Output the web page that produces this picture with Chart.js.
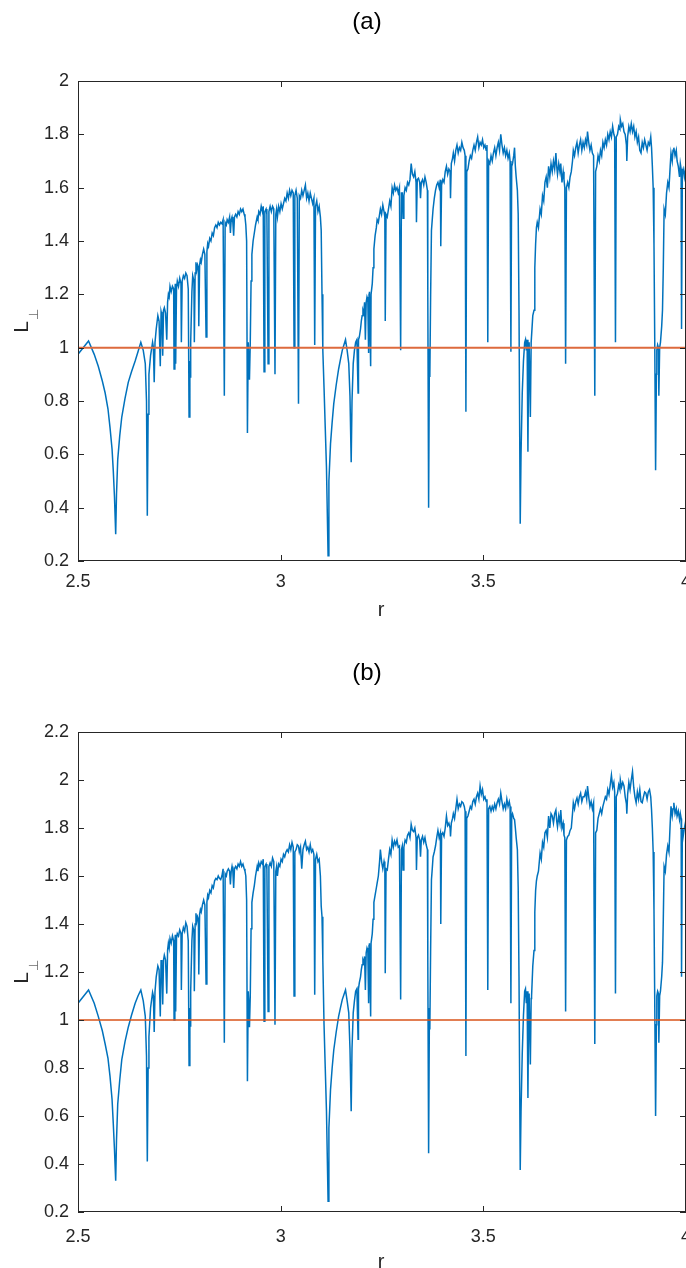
<!DOCTYPE html>
<html>
<head>
<meta charset="utf-8">
<title>L perp versus r</title>
<script src="https://cdn.jsdelivr.net/npm/chart.js@4.4.0/dist/chart.umd.min.js"></script>
<style>
    html, body { margin: 0; padding: 0; background: #ffffff; overflow: hidden; }
    .panel { position: absolute; left: 0; width: 686px; height: 634px; }
    #panelA { top: 0; }
    #panelB { top: 634px; }
</style>
</head>
<body>
<div class="panel" id="panelA"><canvas id="chartA" width="686" height="634"></canvas></div>
<div class="panel" id="panelB"><canvas id="chartB" width="686" height="634"></canvas></div>
<script>
// ========================================
// DATA
// ========================================

// r samples, shared by both panels
const rVals = [
    2.5, 2.526, 2.54, 2.55, 2.56, 2.567, 2.574, 2.579, 2.584, 2.587,
    2.59, 2.593, 2.595, 2.598, 2.603, 2.608, 2.616, 2.624, 2.632, 2.641,
    2.648, 2.655, 2.661, 2.666, 2.669, 2.671, 2.673, 2.675, 2.679, 2.684,
    2.686, 2.688, 2.69, 2.693, 2.697, 2.7, 2.703, 2.705, 2.707, 2.709,
    2.711, 2.713, 2.716, 2.719, 2.721, 2.723, 2.725, 2.727, 2.73, 2.733,
    2.736, 2.737, 2.739, 2.74, 2.741, 2.743, 2.745, 2.748, 2.751, 2.754,
    2.755, 2.757, 2.76, 2.763, 2.766, 2.769, 2.772, 2.774, 2.776, 2.777,
    2.778, 2.781, 2.783, 2.786, 2.787, 2.789, 2.791, 2.793, 2.795, 2.797,
    2.798, 2.8, 2.802, 2.804, 2.807, 2.81, 2.813, 2.816, 2.818, 2.82,
    2.822, 2.825, 2.828, 2.831, 2.834, 2.837, 2.84, 2.843, 2.846, 2.849,
    2.852, 2.855, 2.858, 2.861, 2.863, 2.866, 2.868, 2.871, 2.874, 2.876,
    2.878, 2.88, 2.882, 2.884, 2.886, 2.889, 2.892, 2.895, 2.898, 2.901,
    2.904, 2.907, 2.91, 2.912, 2.914, 2.916, 2.918, 2.92, 2.922, 2.923,
    2.925, 2.927, 2.929, 2.932, 2.935, 2.938, 2.942, 2.944, 2.946, 2.949,
    2.952, 2.955, 2.957, 2.959, 2.961, 2.964, 2.966, 2.969, 2.971, 2.974,
    2.977, 2.98, 2.983, 2.986, 2.988, 2.99, 2.992, 2.995, 2.998, 3.001,
    3.004, 3.007, 3.01, 3.013, 3.016, 3.019, 3.022, 3.025, 3.028, 3.031,
    3.033, 3.035, 3.038, 3.041, 3.044, 3.046, 3.049, 3.052, 3.055, 3.058,
    3.061, 3.064, 3.067, 3.07, 3.073, 3.076, 3.079, 3.082, 3.084, 3.086,
    3.089, 3.092, 3.095, 3.098, 3.1, 3.102, 3.104, 3.107, 3.11, 3.113,
    3.117, 3.119, 3.123, 3.127, 3.131, 3.137, 3.143, 3.148, 3.152, 3.156,
    3.16, 3.164, 3.168, 3.171, 3.174, 3.176, 3.179, 3.182, 3.185, 3.188,
    3.191, 3.192, 3.194, 3.197, 3.199, 3.201, 3.203, 3.205, 3.207, 3.209,
    3.211, 3.213, 3.215, 3.217, 3.218, 3.219, 3.222, 3.223, 3.226, 3.228,
    3.23, 3.233, 3.236, 3.238, 3.241, 3.244, 3.246, 3.249, 3.252, 3.255,
    3.257, 3.258, 3.26, 3.263, 3.266, 3.269, 3.272, 3.275, 3.278, 3.281,
    3.284, 3.287, 3.29, 3.293, 3.296, 3.298, 3.3, 3.302, 3.304, 3.307,
    3.31, 3.313, 3.316, 3.319, 3.322, 3.325, 3.328, 3.331, 3.334, 3.335,
    3.337, 3.34, 3.343, 3.345, 3.347, 3.35, 3.353, 3.356, 3.359, 3.362,
    3.363, 3.365, 3.367, 3.368, 3.37, 3.372, 3.374, 3.376, 3.379, 3.382,
    3.385, 3.388, 3.391, 3.394, 3.395, 3.397, 3.4, 3.403, 3.406, 3.409,
    3.412, 3.415, 3.418, 3.419, 3.421, 3.424, 3.426, 3.429, 3.432, 3.435,
    3.438, 3.441, 3.444, 3.447, 3.45, 3.453, 3.455, 3.457, 3.459, 3.462,
    3.465, 3.468, 3.471, 3.474, 3.477, 3.48, 3.483, 3.486, 3.489, 3.492,
    3.495, 3.498, 3.501, 3.504, 3.507, 3.509, 3.511, 3.513, 3.516, 3.519,
    3.522, 3.525, 3.528, 3.531, 3.534, 3.537, 3.54, 3.543, 3.546, 3.549,
    3.552, 3.555, 3.558, 3.561, 3.564, 3.566, 3.568, 3.57, 3.572, 3.575,
    3.577, 3.579, 3.581, 3.584, 3.586, 3.588, 3.591, 3.593, 3.596, 3.599,
    3.602, 3.604, 3.606, 3.608, 3.61, 3.612, 3.613, 3.616, 3.618, 3.619,
    3.622, 3.625, 3.627, 3.629, 3.631, 3.633, 3.636, 3.64, 3.643, 3.646,
    3.649, 3.652, 3.655, 3.658, 3.661, 3.664, 3.667, 3.67, 3.673, 3.676,
    3.679, 3.681, 3.683, 3.686, 3.689, 3.691, 3.694, 3.697, 3.699, 3.701,
    3.703, 3.705, 3.708, 3.711, 3.714, 3.717, 3.72, 3.722, 3.725, 3.728,
    3.731, 3.734, 3.737, 3.74, 3.743, 3.746, 3.749, 3.752, 3.755, 3.757,
    3.76, 3.763, 3.766, 3.769, 3.772, 3.775, 3.777, 3.78, 3.783, 3.786,
    3.789, 3.792, 3.795, 3.798, 3.801, 3.804, 3.807, 3.81, 3.813, 3.816,
    3.819, 3.822, 3.824, 3.826, 3.828, 3.831, 3.834, 3.837, 3.838, 3.841,
    3.844, 3.847, 3.85, 3.853, 3.854, 3.856, 3.859, 3.862, 3.865, 3.868,
    3.871, 3.874, 3.877, 3.88, 3.883, 3.886, 3.889, 3.892, 3.895, 3.898,
    3.901, 3.904, 3.907, 3.91, 3.913, 3.915, 3.917, 3.919, 3.921, 3.923,
    3.925, 3.927, 3.928, 3.93, 3.932, 3.933, 3.935, 3.937, 3.94, 3.942,
    3.944, 3.946, 3.949, 3.952, 3.955, 3.958, 3.961, 3.963, 3.966, 3.968,
    3.97, 3.973, 3.976, 3.978, 3.981, 3.984, 3.986, 3.988, 3.989, 3.991,
    3.993, 3.996, 4.0
];

// panel (a)
const lA = [
    0.975, 1.025, 0.975, 0.93, 0.875, 0.83, 0.77, 0.70, 0.62, 0.54,
    0.44, 0.30, 0.45, 0.58, 0.67, 0.74, 0.81, 0.87, 0.91, 0.95,
    0.985, 1.02, 0.99, 0.94, 0.80, 0.37, 0.75, 0.90, 0.97, 1.02,
    1.00, 0.87, 1.02, 1.07, 1.12, 1.10, 0.93, 1.135, 1.12, 0.97,
    1.14, 1.15, 1.13, 1.03, 1.17, 1.20, 1.19, 1.23, 1.21, 1.23,
    1.22, 0.92, 1.20, 1.24, 0.94, 1.22, 1.25, 1.23, 1.26, 1.24,
    1.02, 1.25, 1.27, 1.26, 1.28, 1.27, 1.22, 0.74, 0.95, 0.89,
    1.02, 1.21, 1.27, 1.25, 1.02, 1.28, 1.32, 1.29, 1.31, 1.30,
    1.08, 1.31, 1.33, 1.32, 1.35, 1.37, 1.35, 1.04, 1.36, 1.39,
    1.38, 1.41, 1.40, 1.43, 1.42, 1.45, 1.46, 1.45, 1.47, 1.46,
    1.47, 1.465, 1.48, 0.82, 1.47, 1.46, 1.48, 1.47, 1.49, 1.43,
    1.48, 1.49, 1.47, 1.42, 1.49, 1.50, 1.49, 1.51, 1.50, 1.52,
    1.51, 1.52, 1.50, 1.49, 1.46, 1.40, 0.68, 1.02, 0.94, 0.88,
    1.02, 1.25, 1.35, 1.40, 1.43, 1.46, 1.49, 1.48, 1.51, 1.50,
    1.53, 1.51, 1.53, 0.91, 1.51, 1.52, 1.50, 0.94, 1.51, 1.53,
    1.51, 1.53, 1.52, 0.90, 1.50, 1.52, 1.49, 1.53, 1.51, 1.54,
    1.52, 1.54, 1.56, 1.55, 1.58, 1.56, 1.59, 1.57, 1.59, 1.58,
    1.00, 1.57, 1.59, 1.56, 0.79, 1.57, 1.56, 1.59, 1.57, 1.59,
    1.61, 1.56, 1.58, 1.55, 1.58, 1.56, 1.54, 1.56, 1.01, 1.53,
    1.55, 1.51, 1.53, 1.49, 1.44, 1.20, 0.99, 0.85, 0.70, 0.55,
    0.22, 0.50, 0.64, 0.72, 0.79, 0.86, 0.92, 0.96, 0.99, 1.01,
    1.03, 0.99, 0.94, 0.82, 0.57, 0.80, 0.94, 0.99, 1.02, 1.03,
    0.83, 1.03, 1.04, 1.07, 1.10, 1.12, 1.14, 1.13, 1.17, 1.03,
    1.17, 1.19, 1.18, 0.98, 1.20, 1.21, 0.93, 1.20, 1.24, 1.30,
    1.37, 1.42, 1.45, 1.48, 1.47, 1.50, 1.52, 1.50, 1.535, 1.51,
    1.49, 1.10, 1.50, 1.49, 1.52, 1.55, 1.53, 1.60, 1.58, 1.61,
    1.59, 1.60, 1.58, 1.60, 0.99, 1.58, 1.58, 1.485, 1.57, 1.60,
    1.59, 1.62, 1.61, 1.63, 1.69, 1.65, 1.64, 1.66, 1.62, 1.47,
    1.63, 1.635, 1.62, 1.56, 1.62, 1.63, 1.61, 1.64, 1.62, 1.59,
    1.20, 0.40, 1.00, 0.89, 1.20, 1.44, 1.48, 1.52, 1.56, 1.59,
    1.61, 1.62, 1.60, 1.63, 1.38, 1.61, 1.63, 1.62, 1.66, 1.68,
    1.65, 1.67, 1.66, 1.56, 1.69, 1.71, 1.73, 1.70, 1.74, 1.76,
    1.73, 1.75, 1.74, 1.77, 1.75, 1.74, 1.72, 0.76, 1.66, 1.67,
    1.70, 1.72, 1.71, 1.74, 1.76, 1.74, 1.77, 1.79, 1.75, 1.77,
    1.76, 1.78, 1.75, 1.76, 1.74, 1.76, 1.02, 1.70, 1.69, 1.72,
    1.70, 1.73, 1.75, 1.72, 1.75, 1.77, 1.74, 1.80, 1.76, 1.73,
    1.75, 1.72, 1.74, 1.71, 1.73, 1.70, 0.985, 1.68, 1.69, 1.72,
    1.75, 1.68, 1.64, 1.59, 1.50, 1.14, 0.34, 0.60, 0.83, 0.95,
    1.02, 1.03, 0.99, 1.03, 0.61, 1.00, 1.02, 0.74, 1.02, 1.02,
    1.12, 1.14, 1.30, 1.39, 1.45, 1.47, 1.45, 1.52, 1.50, 1.57,
    1.55, 1.62, 1.64, 1.60, 1.68, 1.64, 1.69, 1.66, 1.70, 1.67,
    1.73, 1.68, 1.65, 1.69, 1.66, 1.69, 1.62, 1.66, 1.63, 1.60,
    0.94, 1.60, 1.62, 1.60, 1.64, 1.66, 1.70, 1.74, 1.72, 1.75,
    1.77, 1.73, 1.76, 1.78, 1.74, 1.77, 1.75, 1.78, 1.76, 1.81,
    1.77, 1.74, 1.76, 1.73, 1.72, 0.82, 1.66, 1.68, 1.72, 1.70,
    1.74, 1.72, 1.77, 1.75, 1.78, 1.76, 1.80, 1.78, 1.81, 1.79,
    1.83, 1.80, 1.79, 1.02, 1.79, 1.80, 1.83, 1.82, 1.855, 1.83,
    1.84, 1.81, 1.80, 1.76, 1.70, 1.79, 1.83, 1.81, 1.84, 1.81,
    1.83, 1.79, 1.81, 1.77, 1.79, 1.74, 1.73, 1.77, 1.75, 1.78,
    1.76, 1.74, 1.77, 1.76, 1.79, 1.75, 1.68, 1.60, 1.39, 1.00,
    0.54, 0.90, 0.99, 1.01, 1.00, 0.82, 1.00, 1.02, 1.08, 1.14,
    1.30, 1.52, 1.50, 1.58, 1.62, 1.60, 1.68, 1.73, 1.70, 1.74,
    1.75, 1.72, 1.74, 1.70, 1.68, 1.64, 1.69, 1.67, 1.07, 1.66,
    1.67, 1.64, 1.69
];

// panel (b)
const lB = [
    1.07, 1.125, 1.07, 1.015, 0.955, 0.90, 0.84, 0.765, 0.67, 0.57,
    0.46, 0.33, 0.50, 0.65, 0.75, 0.835, 0.91, 0.97, 1.02, 1.07,
    1.10, 1.125, 1.08, 1.015, 0.85, 0.41, 0.80, 0.93, 1.05, 1.115,
    1.10, 0.95, 1.12, 1.18, 1.225, 1.21, 1.015, 1.25, 1.23, 1.065,
    1.25, 1.27, 1.25, 1.11, 1.29, 1.32, 1.30, 1.34, 1.32, 1.35,
    1.33, 1.00, 1.32, 1.355, 1.035, 1.34, 1.36, 1.35, 1.375, 1.36,
    1.125, 1.36, 1.385, 1.37, 1.405, 1.39, 1.33, 0.81, 1.05, 0.975,
    1.12, 1.33, 1.39, 1.37, 1.12, 1.40, 1.445, 1.41, 1.43, 1.42,
    1.19, 1.44, 1.46, 1.45, 1.48, 1.50, 1.48, 1.15, 1.49, 1.52,
    1.51, 1.54, 1.53, 1.56, 1.55, 1.58, 1.59, 1.585, 1.60, 1.59,
    1.585, 1.60, 1.63, 0.905, 1.61, 1.60, 1.62, 1.63, 1.62, 1.565,
    1.62, 1.64, 1.62, 1.55, 1.63, 1.64, 1.63, 1.65, 1.64, 1.66,
    1.64, 1.65, 1.63, 1.62, 1.60, 1.50, 0.745, 1.12, 1.05, 0.97,
    1.10, 1.38, 1.49, 1.53, 1.56, 1.60, 1.64, 1.62, 1.655, 1.64,
    1.66, 1.65, 1.67, 0.995, 1.64, 1.65, 1.63, 1.035, 1.64, 1.655,
    1.64, 1.675, 1.66, 0.98, 1.62, 1.64, 1.60, 1.65, 1.64, 1.67,
    1.66, 1.69, 1.68, 1.70, 1.71, 1.70, 1.73, 1.71, 1.74, 1.72,
    1.10, 1.70, 1.71, 1.73, 1.725, 1.70, 1.72, 1.63, 1.71, 1.73,
    1.745, 1.71, 1.72, 1.70, 1.73, 1.70, 1.71, 1.69, 1.105, 1.67,
    1.69, 1.66, 1.67, 1.60, 1.475, 1.43, 1.25, 0.98, 0.80, 0.62,
    0.245, 0.55, 0.71, 0.80, 0.875, 0.95, 1.015, 1.055, 1.085, 1.105,
    1.125, 1.08, 1.03, 0.88, 0.62, 0.88, 1.03, 1.08, 1.12, 1.13,
    0.92, 1.13, 1.155, 1.18, 1.21, 1.23, 1.25, 1.24, 1.265, 1.125,
    1.28, 1.30, 1.29, 1.07, 1.31, 1.32, 1.015, 1.32, 1.36, 1.42,
    1.49, 1.52, 1.55, 1.57, 1.60, 1.66, 1.71, 1.66, 1.63, 1.66,
    1.64, 1.195, 1.63, 1.625, 1.67, 1.71, 1.69, 1.75, 1.72, 1.745,
    1.73, 1.75, 1.72, 1.725, 1.085, 1.71, 1.725, 1.625, 1.72, 1.75,
    1.74, 1.77, 1.78, 1.76, 1.815, 1.79, 1.785, 1.80, 1.76, 1.625,
    1.76, 1.77, 1.75, 1.68, 1.75, 1.765, 1.74, 1.76, 1.73, 1.71,
    1.25, 0.445, 1.05, 0.96, 1.30, 1.585, 1.63, 1.68, 1.70, 1.725,
    1.76, 1.79, 1.76, 1.78, 1.40, 1.77, 1.78, 1.765, 1.80, 1.85,
    1.81, 1.82, 1.80, 1.765, 1.82, 1.84, 1.86, 1.84, 1.88, 1.92,
    1.88, 1.90, 1.89, 1.91, 1.905, 1.89, 1.87, 0.85, 1.84, 1.85,
    1.87, 1.89, 1.88, 1.91, 1.92, 1.90, 1.93, 1.945, 1.92, 1.975,
    1.94, 1.96, 1.92, 1.93, 1.91, 1.92, 1.125, 1.88, 1.89, 1.87,
    1.89, 1.875, 1.90, 1.88, 1.905, 1.92, 1.90, 1.945, 1.91, 1.88,
    1.90, 1.88, 1.92, 1.89, 1.91, 1.89, 1.07, 1.85, 1.86, 1.84,
    1.835, 1.80, 1.76, 1.71, 1.55, 1.18, 0.375, 0.62, 0.86, 1.02,
    1.12, 1.13, 1.07, 1.12, 0.675, 1.08, 1.11, 0.815, 1.09, 1.10,
    1.225, 1.29, 1.45, 1.54, 1.58, 1.60, 1.62, 1.695, 1.67, 1.74,
    1.72, 1.78, 1.79, 1.76, 1.85, 1.80, 1.86, 1.85, 1.82, 1.86,
    1.875, 1.83, 1.805, 1.85, 1.82, 1.875, 1.80, 1.82, 1.77, 1.76,
    1.035, 1.75, 1.765, 1.77, 1.79, 1.80, 1.86, 1.905, 1.88, 1.91,
    1.925, 1.90, 1.93, 1.945, 1.91, 1.93, 1.93, 1.95, 1.92, 1.975,
    1.93, 1.89, 1.91, 1.88, 1.905, 0.90, 1.78, 1.79, 1.84, 1.86,
    1.88, 1.86, 1.89, 1.91, 1.93, 1.92, 1.96, 1.94, 1.98, 2.02,
    1.97, 1.99, 1.95, 1.11, 1.93, 1.945, 1.98, 1.96, 2.00, 1.97,
    1.99, 1.975, 1.93, 1.90, 1.86, 1.94, 1.99, 1.96, 2.00, 2.035,
    1.97, 1.93, 1.905, 1.95, 1.92, 1.96, 1.91, 1.905, 1.93, 1.95,
    1.945, 1.92, 1.95, 1.96, 1.93, 1.875, 1.80, 1.70, 1.46, 1.05,
    0.60, 0.98, 1.10, 1.12, 1.11, 0.905, 1.10, 1.12, 1.18, 1.24,
    1.42, 1.64, 1.62, 1.69, 1.725, 1.70, 1.82, 1.89, 1.85, 1.88,
    1.905, 1.86, 1.88, 1.85, 1.87, 1.835, 1.86, 1.84, 1.18, 1.80,
    1.765, 1.80, 1.835
];

// reference line L = 1
const refR = [2.5, 4];
const refL = [1, 1];

// tick values
const xTicks = [2.5, 3, 3.5, 4];
const yTicksA = [0.2, 0.4, 0.6, 0.8, 1, 1.2, 1.4, 1.6, 1.8, 2];
const yTicksB = [0.2, 0.4, 0.6, 0.8, 1, 1.2, 1.4, 1.6, 1.8, 2, 2.2];

// ========================================
// STYLE
// ========================================

const FONT = '"Liberation Sans", Arial, Helvetica, sans-serif';
const AXIS_COLOR = '#262626';
const BLUE = '#0072BD';

// MATLAB-like box with inward ticks on all four sides, plus titles
const matlabAxes = {
    id: 'matlabAxes',
    afterDraw(chart, args, opts) {
        const ctx = chart.ctx;
        const a = chart.chartArea;
        const xs = chart.scales.x;
        const ys = chart.scales.y;
        const tick = 6;

        ctx.save();
        ctx.strokeStyle = AXIS_COLOR;
        ctx.lineWidth = 1;
        ctx.beginPath();
        xs.ticks.forEach(t => {
            const px = Math.min(Math.round(xs.getPixelForValue(t.value)) + 0.5, a.right - 0.5);
            ctx.moveTo(px, a.bottom);
            ctx.lineTo(px, a.bottom - tick);
            ctx.moveTo(px, a.top);
            ctx.lineTo(px, a.top + tick);
        });
        ys.ticks.forEach(t => {
            const py = Math.round(ys.getPixelForValue(t.value)) + 0.5;
            ctx.moveTo(a.left, py);
            ctx.lineTo(a.left + tick, py);
            ctx.moveTo(a.right, py);
            ctx.lineTo(a.right - tick, py);
        });
        ctx.stroke();
        ctx.strokeRect(a.left + 0.5, a.top + 0.5, a.right - a.left - 1, a.bottom - a.top - 1);

        // panel title
        ctx.fillStyle = '#000000';
        ctx.textAlign = 'center';
        ctx.textBaseline = 'middle';
        ctx.font = '24px ' + FONT;
        ctx.fillText(opts.title, opts.titleX, opts.titleY);

        // x label
        ctx.fillStyle = AXIS_COLOR;
        ctx.font = '20px ' + FONT;
        ctx.fillText('r', opts.xLabelX, opts.xLabelY);

        // y label: L with a perpendicular sign as subscript
        ctx.translate(opts.yLabelX, (a.top + a.bottom) / 2);
        ctx.rotate(-Math.PI / 2);
        ctx.textAlign = 'left';
        ctx.textBaseline = 'alphabetic';
        ctx.font = '21px ' + FONT;
        const wL = ctx.measureText('L').width;
        ctx.font = '13px ' + FONT;
        const wS = ctx.measureText('\u22A5').width;
        const x0 = -(wL + wS + 1) / 2;
        ctx.font = '21px ' + FONT;
        ctx.fillText('L', x0, 0);
        ctx.fillStyle = '#6e6e6e';
        ctx.font = '13px ' + FONT;
        ctx.fillText('\u22A5', x0 + wL + 1, 10);
        ctx.restore();
    }
};

function fmt(v) {
    return Number(v.toFixed(1)).toString();
}

function makeChart(canvasId, ls, yMax, yTicks, box) {
    const ctx = document.getElementById(canvasId);
    const points = rVals.map((r, i) => ({ x: r, y: ls[i] }));
    const refPoints = refR.map((r, i) => ({ x: r, y: refL[i] }));

    return new Chart(ctx, {
        type: 'line',
        data: {
            datasets: [
                {
                    data: refPoints,
                    borderColor: box.refColor,
                    borderWidth: box.refWidth,
                    pointRadius: 0,
                    tension: 0
                },
                {
                    data: points,
                    borderColor: BLUE,
                    borderWidth: 1.5,
                    pointRadius: 0,
                    tension: 0
                }
            ]
        },
        options: {
            responsive: false,
            animation: false,
            events: [],
            layout: {
                autoPadding: false,
                padding: { top: box.top, left: 0, right: 0, bottom: 0 }
            },
            plugins: {
                legend: { display: false },
                tooltip: { enabled: false },
                matlabAxes: box
            },
            scales: {
                x: {
                    type: 'linear',
                    min: 2.5,
                    max: 4,
                    afterBuildTicks: scale => { scale.ticks = xTicks.map(v => ({ value: v })); },
                    afterFit: scale => {
                        scale.height = box.xAxisHeight;
                        scale.paddingLeft = 0;
                        scale.paddingRight = 0;
                    },
                    grid: { display: false, drawTicks: false },
                    border: { display: false },
                    ticks: {
                        color: AXIS_COLOR,
                        padding: box.xTickPad,
                        maxRotation: 0,
                        autoSkip: false,
                        font: { family: FONT, size: 18 },
                        callback: v => String(v)
                    }
                },
                y: {
                    type: 'linear',
                    min: 0.2,
                    max: yMax,
                    afterBuildTicks: scale => { scale.ticks = yTicks.map(v => ({ value: v })); },
                    afterFit: scale => {
                        scale.width = 78;
                        scale.paddingTop = 0;
                        scale.paddingBottom = 0;
                    },
                    grid: { display: false, drawTicks: false },
                    border: { display: false },
                    ticks: {
                        color: AXIS_COLOR,
                        padding: 9,
                        autoSkip: false,
                        font: { family: FONT, size: 18 },
                        callback: v => fmt(v)
                    }
                }
            }
        },
        plugins: [matlabAxes]
    });
}

makeChart('chartA', lA, 2, yTicksA, {
    title: '(a)', titleX: 367, titleY: 22,
    xLabelX: 381, xLabelY: 610, yLabelX: 28,
    top: 81, xAxisHeight: 73, xTickPad: 10,
    refColor: '#DD6A3D', refWidth: 2
});

makeChart('chartB', lB, 2.2, yTicksB, {
    title: '(b)', titleX: 367, titleY: 39,
    xLabelX: 381, xLabelY: 628, yLabelX: 28,
    top: 98, xAxisHeight: 56, xTickPad: 14,
    refColor: '#D95319', refWidth: 1.6
});
</script>
</body>
</html>
